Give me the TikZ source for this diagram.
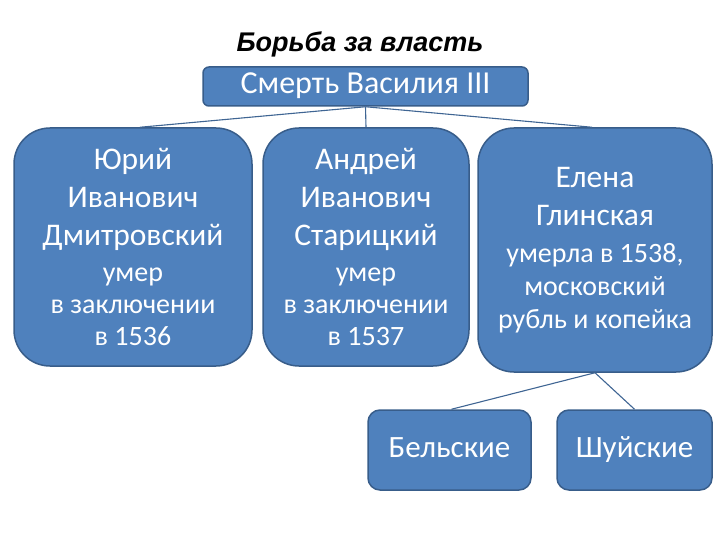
\documentclass[tikz,border=0pt]{standalone}
\usepackage{fontspec}
\setmainfont{Carlito}
\newfontfamily\titlefont{Liberation Sans}
\newcommand{\smt}{\fontsize{28}{34}\selectfont}
\begin{document}
\begin{tikzpicture}[x=1pt,y=-1pt,
  box/.style={draw=boxline,line width=1.5pt,fill=boxfill,text=white,align=center,inner sep=0pt},
  big/.style={font=\fontsize{31.5}{38}\selectfont},
  conn/.style={draw=connline,line width=1.1pt}]
\definecolor{boxfill}{HTML}{4F81BD}
\definecolor{boxline}{HTML}{385D8A}
\definecolor{connline}{HTML}{3F6593}
\useasboundingbox (0,0) rectangle (720,540);
\node (title) at (360,44) {\titlefont\fontsize{27}{32}\selectfont\bfseries\itshape Борьба за власть};
\node[box,minimum width=325pt,minimum height=39pt,rounded corners=6pt,font=\fontsize{32}{36}\selectfont,text height=21pt,text depth=6pt] (top) at (365.5,86.5)
  {Смерть Василия III};
\node[box,big,minimum width=238pt,minimum height=238pt,rounded corners=36pt] (yuri) at (133,247)
  {Юрий\\Иванович\\Дмитровский\\[-2pt]
   \smt умер\\[-6pt]\smt в заключении\\[-6pt]\smt в 1536};
\node[box,big,minimum width=206pt,minimum height=238pt,rounded corners=36pt] (andrey) at (366,247)
  {Андрей\\Иванович\\Старицкий\\[-2pt]
   \smt умер\\[-6pt]\smt в заключении\\[-6pt]\smt в 1537};
\node[box,big,minimum width=234pt,minimum height=244pt,rounded corners=36pt] (elena) at (595,250)
  {Елена\\Глинская\\[-1pt]
   \smt умерла в 1538,\\[-5pt]\smt московский\\[-5pt]\smt рубль и копейка};
\node[box,minimum width=163pt,minimum height=80pt,rounded corners=12pt,font=\fontsize{31}{36}\selectfont,text height=21pt,text depth=7pt] (belsk) at (449.5,450)
  {Бельские};
\node[box,minimum width=155pt,minimum height=80pt,rounded corners=12pt,font=\fontsize{31}{36}\selectfont,text height=21pt,text depth=7pt] (shuisk) at (634.5,450)
  {Шуйские};
\draw[conn] (top.south) -- ([xshift=7pt]yuri.north);
\draw[conn] (top.south) -- (andrey.north);
\draw[conn] (top.south) -- ([xshift=-3pt]elena.north);
\draw[conn] (elena.south) -- ([xshift=2pt]belsk.north);
\draw[conn] (elena.south) -- (shuisk.north);
\end{tikzpicture}
\end{document}
